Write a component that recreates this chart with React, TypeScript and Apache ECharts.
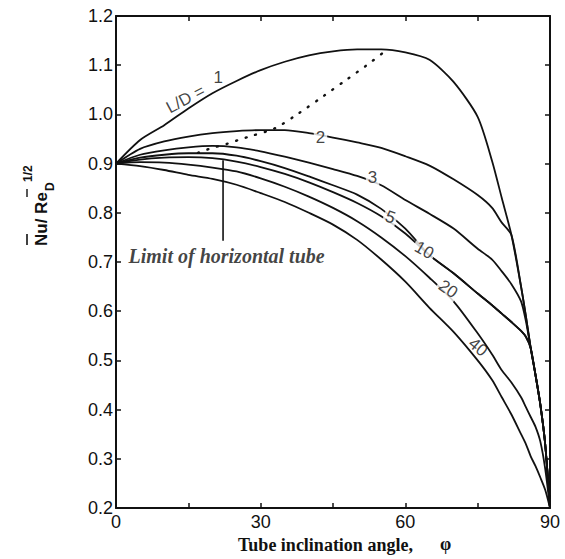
import React, { useEffect, useRef } from "react";
import * as echarts from "echarts";

// Tube inclination angle (degrees)
const angles = [0, 5, 10, 15, 20, 25, 30, 35, 40, 45, 50, 55, 60, 65, 70, 75, 78, 80, 82, 84, 85, 86, 87, 88, 89, 90];

// Nu / Re_D^(1/2) for each L/D
const ld1 = [0.9, 0.948, 0.978, 1.012, 1.043, 1.068, 1.09, 1.107, 1.12, 1.128, 1.132, 1.132, 1.126, 1.111, 1.066, 0.995, 0.905, 0.83, 0.755, 0.65, 0.59, 0.525, 0.47, 0.41, 0.33, 0.2];
const ld2 = [0.9, 0.93, 0.945, 0.955, 0.962, 0.966, 0.968, 0.968, 0.962, 0.953, 0.943, 0.932, 0.915, 0.896, 0.868, 0.836, 0.81, 0.78, 0.755, 0.65, 0.59, 0.525, 0.47, 0.41, 0.33, 0.2];
const ld3 = [0.9, 0.918, 0.927, 0.933, 0.936, 0.933, 0.925, 0.914, 0.902, 0.889, 0.875, 0.856, 0.826, 0.798, 0.768, 0.727, 0.705, 0.681, 0.655, 0.62, 0.58, 0.525, 0.47, 0.41, 0.33, 0.2];
const ld5 = [0.9, 0.912, 0.918, 0.921, 0.921, 0.916, 0.905, 0.891, 0.874, 0.856, 0.837, 0.808, 0.768, 0.714, 0.677, 0.636, 0.612, 0.595, 0.578, 0.56, 0.548, 0.525, 0.47, 0.41, 0.33, 0.2];
const ld10 = [0.9, 0.908, 0.912, 0.913, 0.911, 0.904, 0.893, 0.879, 0.862, 0.842, 0.82, 0.793, 0.758, 0.714, 0.677, 0.636, 0.612, 0.595, 0.578, 0.56, 0.548, 0.525, 0.47, 0.41, 0.33, 0.2];
const ld20 = [0.9, 0.903, 0.902, 0.898, 0.892, 0.884, 0.87, 0.853, 0.833, 0.81, 0.783, 0.75, 0.712, 0.668, 0.62, 0.555, 0.512, 0.48, 0.455, 0.425, 0.405, 0.385, 0.365, 0.335, 0.28, 0.2];
const ld40 = [0.9, 0.895, 0.887, 0.877, 0.869, 0.857, 0.84, 0.822, 0.8, 0.776, 0.745, 0.705, 0.66, 0.607, 0.558, 0.5, 0.46, 0.425, 0.39, 0.35, 0.33, 0.305, 0.285, 0.262, 0.237, 0.2];
const curves = [ld1, ld2, ld3, ld5, ld10, ld20, ld40];

// Limit of horizontal tube (dotted locus)
const limitAngles = [17, 20, 23, 25.4, 28, 33, 38, 43, 48, 52, 56];
const limitValues = [0.922, 0.932, 0.94, 0.948, 0.956, 0.972, 1.003, 1.037, 1.072, 1.1, 1.13];

// leader line of the "Limit of horizontal tube" note
const leaderAngle = 22.2;
const leaderValues = [0.907, 0.743];

// curve labels
const curveLabelText = ["L/D =", "1", "2", "3", "5", "10", "20", "40"];
const curveLabelAngle = [14.4, 21.2, 42.4, 53.2, 56.9, 63.9, 68.9, 75.1];
const curveLabelValue = [1.031, 1.076, 0.954, 0.871, 0.791, 0.724, 0.645, 0.527];
const curveLabelRotate = [28, 0, 0, 0, -20, -30, -35, -40];
const curveLabelGap = [false, false, true, true, true, true, true, false];

const noteText = "Limit of horizontal tube";
const noteAt = [2.6, 0.712];

const xTickLabels = [0, 30, 60, 90];

const INK = "#111";

export default function App() {
  const ref = useRef<HTMLDivElement>(null);

  useEffect(() => {
    if (!ref.current) return;
    const chart = echarts.init(ref.current, undefined, { renderer: "svg" });

    const lineSeries = curves.map((vals, k) => ({
      type: "line",
      name: "L/D " + k,
      data: angles.map((a, i) => [a, vals[i]]),
      symbol: "none",
      showSymbol: false,
      smooth: 0.25,
      lineStyle: { color: INK, width: 1.8 },
      z: 3,
    }));

    const axisCommon = {
      min: 0,
      max: 90,
      interval: 15,
      axisLine: { show: true, onZero: false, lineStyle: { color: INK, width: 2 } },
      axisTick: { show: true, inside: true, length: 5, lineStyle: { color: INK, width: 1.5 } },
      splitLine: { show: false },
    };
    const yCommon = {
      type: "value",
      min: 0.2,
      max: 1.2,
      interval: 0.1,
      axisLine: { show: true, onZero: false, lineStyle: { color: INK, width: 2 } },
      axisTick: { show: true, inside: true, length: 5, lineStyle: { color: INK, width: 1.5 } },
      splitLine: { show: false },
    };

    const option: any = {
      animation: false,
      backgroundColor: "#fff",
      textStyle: { fontFamily: "Liberation Sans" },
      grid: { left: 116, right: 15, top: 16, bottom: 51, show: false },
      xAxis: [
        {
          type: "value",
          position: "bottom",
          ...axisCommon,
          axisLabel: {
            show: true,
            margin: 5,
            fontSize: 18,
            color: INK,
            fontFamily: "Liberation Sans",
            formatter: (v: number) => (xTickLabels.includes(Math.round(v)) ? String(Math.round(v)) : ""),
          },
        },
        {
          type: "value",
          position: "top",
          ...axisCommon,
          axisLabel: { show: false },
        },
      ],
      yAxis: [
        {
          ...yCommon,
          position: "left",
          axisLabel: {
            show: true,
            margin: 3,
            fontSize: 18,
            color: INK,
            fontFamily: "Liberation Sans",
            formatter: (v: number) => v.toFixed(1),
          },
        },
        {
          ...yCommon,
          position: "right",
          axisLabel: { show: false },
        },
      ],
      series: [
        ...lineSeries,
        {
          type: "line",
          name: "limit",
          data: limitAngles.map((a, i) => [a, limitValues[i]]),
          symbol: "none",
          smooth: 0.3,
          lineStyle: { color: INK, width: 2.4, type: [1, 9], cap: "round" },
          z: 3,
        },
        {
          type: "line",
          name: "leader",
          data: leaderValues.map((v) => [leaderAngle, v]),
          symbol: "none",
          lineStyle: { color: INK, width: 1.6 },
          z: 3,
        },
        {
          type: "scatter",
          name: "labels",
          symbol: "circle",
          symbolSize: 0.1,
          itemStyle: { color: "rgba(0,0,0,0)" },
          z: 10,
          data: curveLabelText.map((t, i) => ({
            value: [curveLabelAngle[i], curveLabelValue[i]],
            label: {
              show: true,
              position: "inside",
              formatter: t,
              rotate: curveLabelRotate[i],
              fontSize: 17,
              color: INK,
              fontFamily: "Liberation Sans",
              align: "center",
              verticalAlign: "middle",
              backgroundColor: curveLabelGap[i] ? "#fff" : "transparent",
              padding: curveLabelGap[i] ? [0, 2] : 0,
            },
          })),
        },
        {
          type: "scatter",
          name: "note",
          symbol: "circle",
          symbolSize: 0.1,
          itemStyle: { color: "rgba(0,0,0,0)" },
          z: 10,
          data: [
            {
              value: noteAt,
              label: {
                show: true,
                position: "inside",
                formatter: noteText,
                fontSize: 20,
                fontWeight: "bold",
                fontStyle: "italic",
                fontFamily: "Liberation Serif",
                color: INK,
                align: "left",
                verticalAlign: "middle",
              },
            },
          ],
        },
      ],
      graphic: [
        {
          type: "text",
          left: 238,
          top: 536,
          style: {
            text: "Tube inclination angle,",
            font: 'bold 18px "Liberation Serif"',
            fill: INK,
          },
        },
        {
          type: "text",
          left: 440,
          top: 535,
          style: {
            text: "φ",
            font: 'bold 18px "Liberation Serif"',
            fill: INK,
          },
        },
        {
          type: "group",
          x: 41,
          y: 247,
          rotation: Math.PI / 2,
          children: [
            {
              type: "text",
              x: 1,
              y: 0,
              style: {
                text: "Nu/ Re",
                font: 'bold 17px "Liberation Sans"',
                fill: INK,
                align: "left",
                verticalAlign: "middle",
              },
            },
            {
              type: "text",
              x: 56,
              y: 9,
              style: {
                text: "D",
                font: 'bold 12px "Liberation Sans"',
                fill: INK,
                align: "left",
                verticalAlign: "middle",
              },
            },
            {
              type: "text",
              x: 65,
              y: -13,
              style: {
                text: "1/2",
                font: 'bold 12px "Liberation Sans"',
                fill: INK,
                align: "left",
                verticalAlign: "middle",
              },
            },
            {
              type: "line",
              shape: { x1: 2, y1: -14, x2: 13, y2: -14 },
              style: { stroke: INK, lineWidth: 1.6 },
            },
            {
              type: "line",
              shape: { x1: 50, y1: -14, x2: 58, y2: -14 },
              style: { stroke: INK, lineWidth: 1.4 },
            },
          ],
        },
      ],
    };

    chart.setOption(option);
    return () => chart.dispose();
  }, []);

  return (
    <div
      ref={ref}
      style={{ position: "fixed", left: 0, top: 0, width: 565, height: 559, background: "#fff" }}
    />
  );
}
